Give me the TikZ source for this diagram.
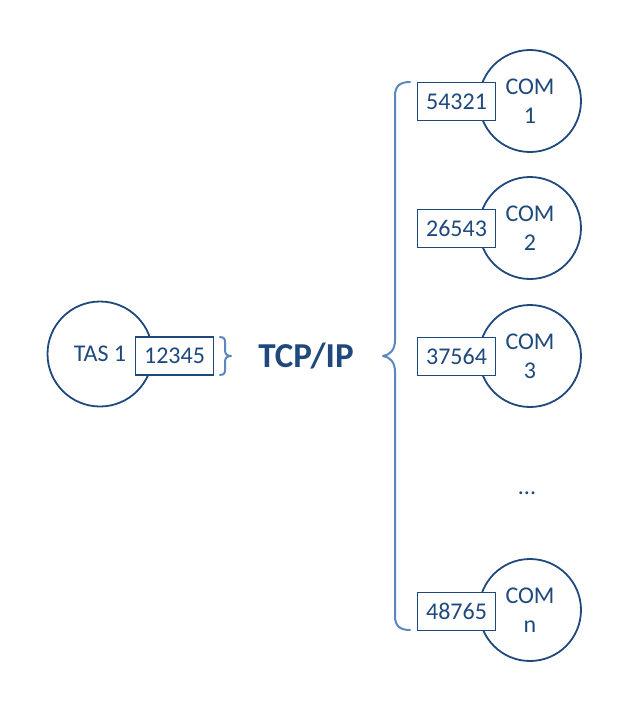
\documentclass[tikz,border=0pt]{standalone}
\usepackage{fontspec}
\setmainfont{Carlito}
\definecolor{dk}{HTML}{1F497D}
\definecolor{br}{HTML}{5B86BE}
\begin{document}
\begin{tikzpicture}[x=1pt,y=-1pt,
  host/.style={circle,draw=dk,line width=1.8pt,minimum size=102pt,inner sep=0pt,text=dk,font=\fontsize{24}{29}\selectfont,align=center},
  port/.style={rectangle,draw=dk,line width=1.2pt,fill=white,text=dk,minimum width=78pt,minimum height=38pt,inner sep=0pt,font=\fontsize{24}{28}\selectfont},
  brace/.style={draw=br,line width=2pt,line cap=round,line join=round},
  lbl/.style={text=dk,inner sep=0pt}]
\useasboundingbox (0,0) rectangle (632,712);
% left host
\node[host,minimum size=105pt] (tas) at (100,354) {TAS 1};
\node[port] (p0) at (174.5,356) {12345};
% right hosts
\node[host] (c1) at (530,101) {COM\\1};
\node[host] (c2) at (530,228) {COM\\2};
\node[host] (c3) at (530,356) {COM\\3};
\node[host] (cn) at (530,610) {COM\\n};
\node[port] (p1) at (456.5,101.5) {54321};
\node[port] (p2) at (456.5,228.5) {26543};
\node[port] (p3) at (456.5,356.5) {37564};
\node[port] (pn) at (456.5,611.5) {48765};
\node[lbl,font=\fontsize{24}{28}\selectfont] (dots) at (527,493) {...};
\node[lbl,font=\bfseries\fontsize{35}{40}\selectfont] (tcp) at (306,356) {TCP/IP};
% small brace
\draw[brace] (220,337) .. controls (226,337) and (225,341) .. (225,346) -- (225,350)
  .. controls (225,354) and (227,356) .. (231,356)
  .. controls (227,356) and (225,358) .. (225,362) -- (225,366)
  .. controls (225,371) and (226,375) .. (220,375);
% big brace
\draw[brace] (410,82) .. controls (400,82) and (395,86) .. (395,96) -- (395,340)
  .. controls (395,350) and (390,355) .. (383,356)
  .. controls (390,357) and (395,362) .. (395,372) -- (395,616)
  .. controls (395,626) and (400,630) .. (410,630);
\end{tikzpicture}
\end{document}
